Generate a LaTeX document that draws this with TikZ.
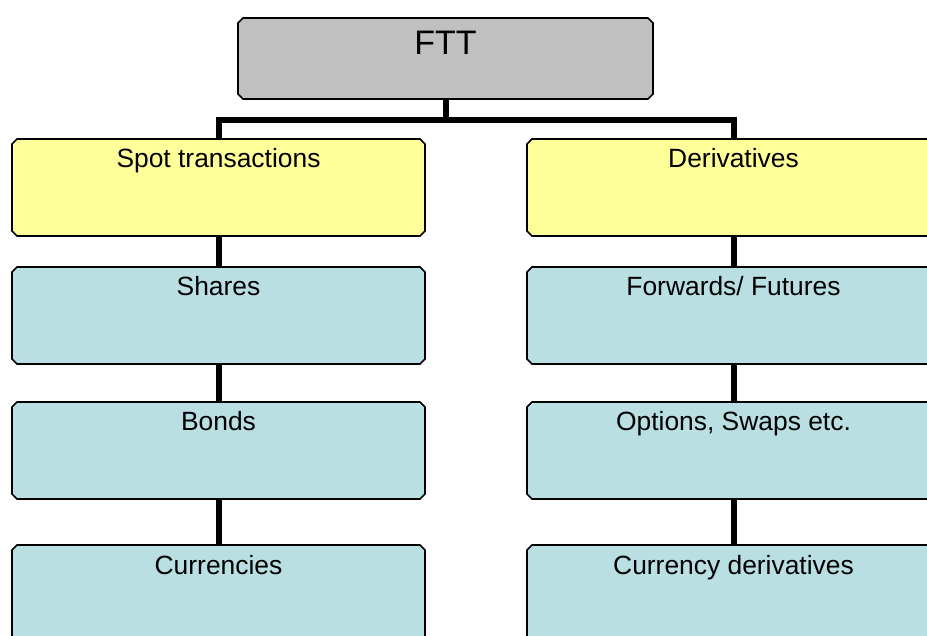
\documentclass[tikz,border=0pt]{standalone}
\usepackage{fontspec}
\setmainfont{Liberation Sans}
\definecolor{ftgray}{HTML}{C0C0C0}
\definecolor{ftyellow}{HTML}{FFFF99}
\definecolor{ftblue}{HTML}{B9DFE2}
\newcommand\chamfbox[2]{%
  \filldraw[fill=#2, draw=black, line width=1.6pt]
    ([xshift=5pt]#1.north west) -- ([xshift=-5pt]#1.north east)
    -- ([yshift=-5pt]#1.north east) -- ([yshift=5pt]#1.south east)
    -- ([xshift=-5pt]#1.south east) -- ([xshift=5pt]#1.south west)
    -- ([yshift=5pt]#1.south west) -- ([yshift=-5pt]#1.north west) -- cycle;}
\begin{document}
\begin{tikzpicture}[x=1pt,y=-1pt,
  box/.style={rectangle, draw=none, minimum width=413pt, minimum height=97pt, inner sep=0pt, outer sep=0pt},
  topbox/.style={box, minimum width=415pt, minimum height=81pt},
  txt/.style={anchor=base, inner sep=0pt, font=\fontsize{26.4}{30}\selectfont},
  conn/.style={draw=black, line width=6pt, line join=miter}
]
\clip (0,0) rectangle (927,636);
\fill[white] (0,0) rectangle (927,636);
% box frames (positions)
\node[topbox] (ftt) at (445.5,58.5) {};
\node[box] (spot) at (218.5,187.5) {};
\node[box] (deriv) at (733.5,187.5) {};
\node[box] (shares) at (218.5,315.5) {};
\node[box] (bonds) at (218.5,450.5) {};
\node[box] (curr) at (218.5,593.5) {};
\node[box] (fwd) at (733.5,315.5) {};
\node[box] (opt) at (733.5,450.5) {};
\node[box] (cder) at (733.5,593.5) {};
% connectors
\draw[conn] (ftt.south) -- ++(0,21) coordinate (j);
\draw[conn] (spot.north) |- (j) -| (deriv.north);
\draw[conn] (spot.south) -- (shares.north);
\draw[conn] (shares.south) -- (bonds.north);
\draw[conn] (bonds.south) -- (curr.north);
\draw[conn] (deriv.south) -- (fwd.north);
\draw[conn] (fwd.south) -- (opt.north);
\draw[conn] (opt.south) -- (cder.north);
% chamfered boxes
\chamfbox{ftt}{ftgray}
\chamfbox{spot}{ftyellow}
\chamfbox{deriv}{ftyellow}
\chamfbox{shares}{ftblue}
\chamfbox{bonds}{ftblue}
\chamfbox{curr}{ftblue}
\chamfbox{fwd}{ftblue}
\chamfbox{opt}{ftblue}
\chamfbox{cder}{ftblue}
% texts
\node[txt, font=\fontsize{34}{40}\selectfont] (tftt) at ([yshift=-37pt]ftt.north) {FTT};
\node[txt] (tspot) at ([yshift=-29pt]spot.north) {Spot transactions};
\node[txt] (tderiv) at ([yshift=-29pt]deriv.north) {Derivatives};
\node[txt] (tshares) at ([yshift=-29pt]shares.north) {Shares};
\node[txt] (tbonds) at ([yshift=-29pt]bonds.north) {Bonds};
\node[txt] (tcurr) at ([yshift=-29pt]curr.north) {Currencies};
\node[txt] (tfwd) at ([yshift=-29pt]fwd.north) {Forwards/ Futures};
\node[txt] (topt) at ([yshift=-29pt]opt.north) {Options, Swaps etc.};
\node[txt] (tcder) at ([yshift=-29pt]cder.north) {Currency derivatives};
\end{tikzpicture}
\end{document}
